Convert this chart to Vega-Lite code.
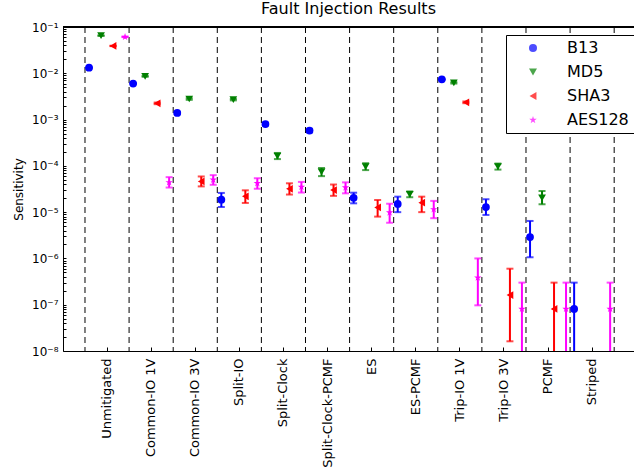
{
  "$schema": "https://vega.github.io/schema/vega-lite/v6.json",
  "width": 571,
  "height": 324,
  "autosize": {"type": "none"},
  "padding": {"left": 63, "top": 27, "right": 0, "bottom": 120},
  "background": "white",
  "title": {"text": "Fault Injection Results", "fontSize": 16, "font": "DejaVu Sans", "fontWeight": "normal", "color": "black", "offset": 4},
  "config": {
    "view": {"stroke": null},
    "font": "DejaVu Sans",
    "axis": {"labelFont": "DejaVu Sans", "titleFont": "DejaVu Sans", "domainColor": "black", "tickColor": "black", "labelColor": "black", "titleColor": "black", "grid": false, "domainWidth": 1, "tickWidth": 1, "titleFontWeight": "normal"}
  },
  "data": {"values": [
    {"cfg": "Unmitigated", "series": "B13", "v": 0.0132, "lo": 0.0130, "hi": 0.0134},
    {"cfg": "Unmitigated", "series": "MD5", "v": 0.065, "lo": 0.0645, "hi": 0.0655},
    {"cfg": "Unmitigated", "series": "SHA3", "v": 0.039, "lo": 0.0386, "hi": 0.0394},
    {"cfg": "Unmitigated", "series": "AES128", "v": 0.061, "lo": 0.0605, "hi": 0.0615},
    {"cfg": "Common-IO 1V", "series": "B13", "v": 0.0060, "lo": 0.00585, "hi": 0.00615},
    {"cfg": "Common-IO 1V", "series": "MD5", "v": 0.0086, "lo": 0.0084, "hi": 0.0088},
    {"cfg": "Common-IO 1V", "series": "SHA3", "v": 0.00224, "lo": 0.00215, "hi": 0.00233},
    {"cfg": "Common-IO 1V", "series": "AES128", "v": 4.4e-5, "lo": 3.4e-5, "hi": 5.7e-5},
    {"cfg": "Common-IO 3V", "series": "B13", "v": 0.00139, "lo": 0.00131, "hi": 0.00147},
    {"cfg": "Common-IO 3V", "series": "MD5", "v": 0.00278, "lo": 0.00267, "hi": 0.00289},
    {"cfg": "Common-IO 3V", "series": "SHA3", "v": 4.6e-5, "lo": 3.6e-5, "hi": 5.9e-5},
    {"cfg": "Common-IO 3V", "series": "AES128", "v": 5.0e-5, "lo": 3.9e-5, "hi": 6.3e-5},
    {"cfg": "Split-IO", "series": "B13", "v": 1.86e-5, "lo": 1.29e-5, "hi": 2.6e-5},
    {"cfg": "Split-IO", "series": "MD5", "v": 0.0027, "lo": 0.0026, "hi": 0.0028},
    {"cfg": "Split-IO", "series": "SHA3", "v": 2.2e-5, "lo": 1.58e-5, "hi": 2.96e-5},
    {"cfg": "Split-IO", "series": "AES128", "v": 4.2e-5, "lo": 3.2e-5, "hi": 5.4e-5},
    {"cfg": "Split-Clock", "series": "B13", "v": 8.0e-4, "lo": 7.45e-4, "hi": 8.55e-4},
    {"cfg": "Split-Clock", "series": "MD5", "v": 1.63e-4, "lo": 1.4e-4, "hi": 1.9e-4},
    {"cfg": "Split-Clock", "series": "SHA3", "v": 3.2e-5, "lo": 2.4e-5, "hi": 4.2e-5},
    {"cfg": "Split-Clock", "series": "AES128", "v": 3.5e-5, "lo": 2.65e-5, "hi": 4.5e-5},
    {"cfg": "Split-Clock-PCMF", "series": "B13", "v": 5.8e-4, "lo": 5.3e-4, "hi": 6.3e-4},
    {"cfg": "Split-Clock-PCMF", "series": "MD5", "v": 7.4e-5, "lo": 6.0e-5, "hi": 9.0e-5},
    {"cfg": "Split-Clock-PCMF", "series": "SHA3", "v": 3.0e-5, "lo": 2.25e-5, "hi": 3.95e-5},
    {"cfg": "Split-Clock-PCMF", "series": "AES128", "v": 3.4e-5, "lo": 2.55e-5, "hi": 4.4e-5},
    {"cfg": "ES", "series": "B13", "v": 2.04e-5, "lo": 1.55e-5, "hi": 2.63e-5},
    {"cfg": "ES", "series": "MD5", "v": 9.6e-5, "lo": 8.1e-5, "hi": 1.14e-4},
    {"cfg": "ES", "series": "SHA3", "v": 1.26e-5, "lo": 8.0e-6, "hi": 1.83e-5},
    {"cfg": "ES", "series": "AES128", "v": 9.8e-6, "lo": 5.9e-6, "hi": 1.52e-5},
    {"cfg": "ES-PCMF", "series": "B13", "v": 1.5e-5, "lo": 1.0e-5, "hi": 2.16e-5},
    {"cfg": "ES-PCMF", "series": "MD5", "v": 2.42e-5, "lo": 2.1e-5, "hi": 2.8e-5},
    {"cfg": "ES-PCMF", "series": "SHA3", "v": 1.6e-5, "lo": 1.0e-5, "hi": 2.16e-5},
    {"cfg": "ES-PCMF", "series": "AES128", "v": 1.15e-5, "lo": 7.4e-6, "hi": 1.75e-5},
    {"cfg": "Trip-IO 1V", "series": "B13", "v": 7.4e-3, "lo": 7.2e-3, "hi": 7.6e-3},
    {"cfg": "Trip-IO 1V", "series": "MD5", "v": 6.2e-3, "lo": 6.0e-3, "hi": 6.4e-3},
    {"cfg": "Trip-IO 1V", "series": "SHA3", "v": 2.36e-3, "lo": 2.26e-3, "hi": 2.46e-3},
    {"cfg": "Trip-IO 1V", "series": "AES128", "v": 3.84e-7, "lo": 9.7e-8, "hi": 1.0e-6},
    {"cfg": "Trip-IO 3V", "series": "B13", "v": 1.29e-5, "lo": 8.7e-6, "hi": 1.9e-5},
    {"cfg": "Trip-IO 3V", "series": "MD5", "v": 9.6e-5, "lo": 8.3e-5, "hi": 1.12e-4},
    {"cfg": "Trip-IO 3V", "series": "SHA3", "v": 1.62e-7, "lo": 1.62e-8, "hi": 6.0e-7},
    {"cfg": "Trip-IO 3V", "series": "AES128", "v": 8.1e-8, "lo": 1e-10, "hi": 3.0e-7},
    {"cfg": "PCMF", "series": "B13", "v": 2.9e-6, "lo": 1.06e-6, "hi": 6.45e-6},
    {"cfg": "PCMF", "series": "MD5", "v": 2.04e-5, "lo": 1.48e-5, "hi": 2.86e-5},
    {"cfg": "PCMF", "series": "SHA3", "v": 8.1e-8, "lo": 1e-10, "hi": 3.0e-7},
    {"cfg": "PCMF", "series": "AES128", "v": 8.1e-8, "lo": 1e-10, "hi": 3.0e-7},
    {"cfg": "Striped", "series": "B13", "v": 8.1e-8, "lo": 1e-10, "hi": 3.0e-7},
    {"cfg": "Striped", "series": "AES128", "v": 8.1e-8, "lo": 1e-10, "hi": 3.0e-7}
  ]},
  "layer": [
    {
      "data": {"values": [{"cfg": "Unmitigated"}, {"cfg": "Common-IO 1V"}, {"cfg": "Common-IO 3V"}, {"cfg": "Split-IO"}, {"cfg": "Split-Clock"}, {"cfg": "Split-Clock-PCMF"}, {"cfg": "ES"}, {"cfg": "ES-PCMF"}, {"cfg": "Trip-IO 1V"}, {"cfg": "Trip-IO 3V"}, {"cfg": "PCMF"}, {"cfg": "Striped"}]},
      "mark": {"type": "rule", "color": "black", "strokeWidth": 1, "strokeDash": [6, 4]},
      "encoding": {
        "x": {"field": "cfg", "type": "nominal", "bandPosition": 0, "sort": null}
      }
    },
    {
      "data": {"values": [{"cfg": "Striped"}]},
      "mark": {"type": "rule", "color": "black", "strokeWidth": 1, "strokeDash": [6, 4]},
      "encoding": {
        "x": {"field": "cfg", "type": "nominal", "bandPosition": 1, "sort": null}
      }
    },
    {
      "mark": {"type": "rule", "color": "black", "strokeWidth": 1},
      "encoding": {
        "y": {"datum": 0.1, "type": "quantitative"}
      }
    },
    {
      "mark": {"type": "rule", "strokeWidth": 2, "clip": true},
      "encoding": {
        "x": {"field": "cfg", "type": "nominal", "sort": null},
        "xOffset": {"field": "series", "type": "nominal"},
        "y": {"field": "lo", "type": "quantitative"},
        "y2": {"field": "hi"},
        "color": {"field": "series", "type": "nominal"}
      }
    },
    {
      "mark": {"type": "tick", "size": 7, "thickness": 2, "clip": true},
      "encoding": {
        "x": {"field": "cfg", "type": "nominal", "sort": null},
        "xOffset": {"field": "series", "type": "nominal"},
        "y": {"field": "hi", "type": "quantitative"},
        "color": {"field": "series", "type": "nominal"}
      }
    },
    {
      "mark": {"type": "tick", "size": 7, "thickness": 2, "clip": true},
      "encoding": {
        "x": {"field": "cfg", "type": "nominal", "sort": null},
        "xOffset": {"field": "series", "type": "nominal"},
        "y": {"field": "lo", "type": "quantitative"},
        "color": {"field": "series", "type": "nominal"}
      }
    },
    {
      "mark": {"type": "point", "filled": true, "opacity": 1, "size": 60, "strokeWidth": 0},
      "encoding": {
        "x": {"field": "cfg", "type": "nominal", "sort": null,
              "scale": {"domain": ["Unmitigated", "Common-IO 1V", "Common-IO 3V", "Split-IO", "Split-Clock", "Split-Clock-PCMF", "ES", "ES-PCMF", "Trip-IO 1V", "Trip-IO 3V", "PCMF", "Striped"], "paddingInner": 0, "paddingOuter": 0.474, "align": 0.526},
              "axis": {"orient": "bottom", "title": null, "labelAngle": -90, "labelFontSize": 13, "tickSize": -4, "labelPadding": 11}},
        "xOffset": {"field": "series", "type": "nominal",
                    "scale": {"domain": ["B13", "MD5", "SHA3", "AES128"], "paddingInner": 0.5, "paddingOuter": 0.0875}},
        "y": {"field": "v", "type": "quantitative",
              "scale": {"type": "log", "domain": [1e-8, 0.1], "nice": false},
              "axis": {"title": "Sensitivity", "titleFontSize": 12, "titlePadding": 6, "labelFontSize": 12, "labelPadding": 8, "tickSize": -3,
                       "values": [1e-8, 2e-8, 3e-8, 4e-8, 5e-8, 6e-8, 7e-8, 8e-8, 9e-8, 1e-7, 2e-7, 3e-7, 4e-7, 5e-7, 6e-7, 7e-7, 8e-7, 9e-7, 1e-6, 2e-6, 3e-6, 4e-6, 5e-6, 6e-6, 7e-6, 8e-6, 9e-6, 1e-5, 2e-5, 3e-5, 4e-5, 5e-5, 6e-5, 7e-5, 8e-5, 9e-5, 1e-4, 2e-4, 3e-4, 4e-4, 5e-4, 6e-4, 7e-4, 8e-4, 9e-4, 0.001, 0.002, 0.003, 0.004, 0.005, 0.006, 0.007, 0.008, 0.009, 0.01, 0.02, 0.03, 0.04, 0.05, 0.06, 0.07, 0.08, 0.09, 0.1],
                       "labelExpr": "abs(log(datum.value)/LN10 - round(log(datum.value)/LN10)) < 0.01 ? '10⁻' + substring('¹²³⁴⁵⁶⁷⁸', -round(log(datum.value)/LN10) - 1, -round(log(datum.value)/LN10)) : ''"}},
        "shape": {"field": "series", "type": "nominal",
                  "scale": {"domain": ["B13", "MD5", "SHA3", "AES128"], "range": ["circle", "triangle-down", "triangle-left", "M0,-1L0.2245,-0.309L0.951,-0.309L0.363,0.118L0.588,0.809L0,0.382L-0.588,0.809L-0.363,0.118L-0.951,-0.309L-0.2245,-0.309Z"]},
                  "legend": {"title": null, "orient": "none", "legendX": 443, "legendY": 8, "padding": 5, "strokeColor": "black", "fillColor": "white", "cornerRadius": 0,
                             "labelFontSize": 16, "labelFont": "DejaVu Sans", "labelColor": "black", "symbolSize": 64, "symbolOffset": 14, "labelOffset": 26, "rowPadding": 8, "symbolStrokeWidth": 0}},
        "color": {"field": "series", "type": "nominal",
                  "scale": {"domain": ["B13", "MD5", "SHA3", "AES128"], "range": ["#0000ff", "#008000", "#ff0000", "#ff00ff"]},
                  "legend": {"title": null, "orient": "none", "legendX": 443, "legendY": 8, "padding": 5, "strokeColor": "black", "fillColor": "white", "cornerRadius": 0,
                             "labelFontSize": 16, "labelFont": "DejaVu Sans", "labelColor": "black", "symbolSize": 64, "symbolOffset": 14, "labelOffset": 26, "rowPadding": 8, "symbolStrokeWidth": 0}}
      }
    }
  ]
}
